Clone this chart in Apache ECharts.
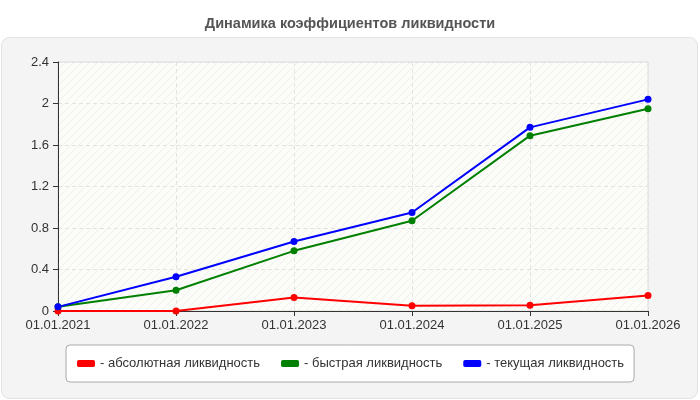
<!DOCTYPE html>
<html>
<head>
    <meta charset="utf-8">
    <title>Динамика коэффициентов ликвидности</title>
    <script src="https://cdn.jsdelivr.net/npm/echarts@6/dist/echarts.min.js"></script>
    <style>
        html, body { margin: 0; padding: 0; background: #fff; }
        #chart { width: 700px; height: 400px; }
    </style>
</head>
<body>
    <div id="chart"></div>
    <script>
        // данные
        var dates = ['01.01.2021', '01.01.2022', '01.01.2023', '01.01.2024', '01.01.2025', '01.01.2026'];
        var absLiq = [0.0, 0.0, 0.13, 0.05, 0.055, 0.15];
        var quickLiq = [0.04, 0.20, 0.58, 0.87, 1.69, 1.95];
        var currentLiq = [0.04, 0.33, 0.67, 0.95, 1.77, 2.04];
        var yTicks = [0, 0.4, 0.8, 1.2, 1.6, 2, 2.4];

        var FONT = 'Liberation Sans, Arial, sans-serif';

        // штриховка фона области графика
        var hatch = document.createElement('canvas');
        hatch.width = 8;
        hatch.height = 8;
        var ctx = hatch.getContext('2d');
        ctx.fillStyle = '#fcfcf9';
        ctx.fillRect(0, 0, 8, 8);
        ctx.strokeStyle = '#efefed';
        ctx.lineWidth = 1;
        ctx.beginPath();
        ctx.moveTo(0, 8); ctx.lineTo(8, 0);
        ctx.moveTo(-1, 1); ctx.lineTo(1, -1);
        ctx.moveTo(7, 9); ctx.lineTo(9, 7);
        ctx.stroke();

        var myChart = echarts.init(document.getElementById('chart'));

        function line(name, data, color) {
            return {
                name: name,
                type: 'line',
                data: data,
                symbol: 'circle',
                symbolSize: 7,
                lineStyle: { color: color, width: 2 },
                itemStyle: { color: color },
                emphasis: { disabled: true },
                z: 3
            };
        }

        var option = {
            animation: false,
            backgroundColor: '#fff',
            title: {
                text: 'Динамика коэффициентов ликвидности',
                left: 'center',
                top: 11,
                textStyle: {
                    fontFamily: FONT,
                    fontSize: 14.5,
                    fontWeight: 'bold',
                    color: '#555'
                }
            },
            graphic: [{
                type: 'rect',
                z: -10,
                shape: { x: 1.5, y: 37.5, width: 696, height: 361, r: 8 },
                style: { fill: '#f4f4f4', stroke: '#e2e2e2', lineWidth: 1 }
            }],
            legend: {
                left: 66,
                top: 345,
                padding: [12, 10, 12, 11],
                itemGap: 21,
                itemWidth: 18,
                itemHeight: 7,
                icon: 'roundRect',
                backgroundColor: '#fff',
                borderColor: '#aaa',
                borderWidth: 1,
                borderRadius: 4,
                formatter: '- {name}',
                selectedMode: false,
                textStyle: {
                    fontFamily: FONT,
                    fontSize: 13,
                    color: '#333'
                },
                data: ['абсолютная ликвидность', 'быстрая ликвидность', 'текущая ликвидность']
            },
            grid: {
                left: 58,
                right: 52,
                top: 62,
                bottom: 89,
                show: true,
                backgroundColor: { image: hatch, repeat: 'repeat' },
                borderColor: '#ddd',
                borderWidth: 1
            },
            xAxis: {
                type: 'category',
                boundaryGap: false,
                data: dates,
                axisLine: { lineStyle: { color: '#333', width: 1 } },
                axisTick: { show: true, length: 5, lineStyle: { color: '#333' } },
                axisLabel: {
                    fontFamily: FONT,
                    fontSize: 13,
                    color: '#333',
                    margin: 8,
                    showMinLabel: true,
                    showMaxLabel: true,
                    interval: 0
                },
                splitLine: { show: true, lineStyle: { color: '#e2e2e2', type: [4, 3] } }
            },
            yAxis: {
                type: 'value',
                min: yTicks[0],
                max: yTicks[yTicks.length - 1],
                interval: 0.4,
                axisLine: { show: true, lineStyle: { color: '#333', width: 1 } },
                axisTick: { show: true, length: 5, lineStyle: { color: '#333' } },
                axisLabel: {
                    fontFamily: FONT,
                    fontSize: 13,
                    color: '#333',
                    margin: 9,
                    formatter: function (v) { return String(Math.round(v * 10) / 10); }
                },
                splitLine: { show: true, lineStyle: { color: '#e2e2e2', type: [4, 3] } }
            },
            series: [
                line('абсолютная ликвидность', absLiq, '#ff0000'),
                line('быстрая ликвидность', quickLiq, '#008000'),
                line('текущая ликвидность', currentLiq, '#0000ff')
            ]
        };

        myChart.setOption(option);
    </script>
</body>
</html>
